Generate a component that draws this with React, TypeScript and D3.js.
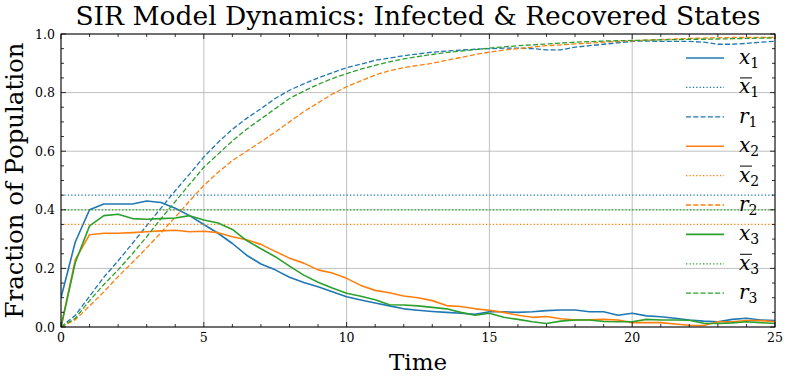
import React, { useEffect, useRef } from 'react'
import * as d3 from 'd3'

// time grid (every 0.5)
const times = d3.range(0, 25.01, 0.5)

// infected fractions x_i
const x1 = [0.10, 0.29, 0.40, 0.42, 0.42, 0.42, 0.43, 0.425, 0.405, 0.38, 0.35, 0.32, 0.285, 0.245, 0.215, 0.195,
  0.17, 0.152, 0.137, 0.12, 0.103, 0.092, 0.082, 0.072, 0.062, 0.057, 0.053, 0.05, 0.047, 0.043, 0.052,
  0.052, 0.05, 0.052, 0.056, 0.058, 0.058, 0.052, 0.052, 0.04, 0.047, 0.038, 0.035, 0.03, 0.024, 0.02,
  0.018, 0.026, 0.03, 0.024, 0.022]
const x2 = [0.0, 0.23, 0.315, 0.32, 0.32, 0.322, 0.325, 0.328, 0.33, 0.325, 0.327, 0.322, 0.308, 0.298, 0.282, 0.258,
  0.235, 0.218, 0.195, 0.184, 0.166, 0.142, 0.125, 0.117, 0.106, 0.1, 0.09, 0.073, 0.07, 0.062, 0.057,
  0.05, 0.04, 0.033, 0.036, 0.028, 0.024, 0.025, 0.026, 0.024, 0.015, 0.015, 0.015, 0.01, 0.006, 0.005,
  0.018, 0.018, 0.022, 0.022, 0.018]
const x3 = [0.0, 0.22, 0.345, 0.38, 0.385, 0.37, 0.368, 0.37, 0.372, 0.38, 0.365, 0.355, 0.333, 0.295, 0.267, 0.24,
  0.208, 0.177, 0.153, 0.133, 0.115, 0.105, 0.093, 0.076, 0.075, 0.072, 0.067, 0.062, 0.05, 0.04, 0.047,
  0.033, 0.026, 0.018, 0.012, 0.02, 0.024, 0.024, 0.019, 0.018, 0.018, 0.026, 0.024, 0.024, 0.023, 0.013,
  0.012, 0.014, 0.018, 0.015, 0.012]

// recovered fractions r_i
const r1 = [0, 0.04, 0.105, 0.17, 0.226, 0.285, 0.346, 0.406, 0.465, 0.522, 0.58, 0.63, 0.675, 0.712, 0.745, 0.78,
  0.808, 0.83, 0.85, 0.868, 0.885, 0.897, 0.91, 0.918, 0.926, 0.932, 0.938, 0.942, 0.945, 0.948, 0.95,
  0.952, 0.952, 0.95, 0.946, 0.946, 0.955, 0.96, 0.965, 0.97, 0.975, 0.976, 0.975, 0.975, 0.975, 0.972,
  0.965, 0.965, 0.968, 0.972, 0.975]
const r2 = [0, 0.025, 0.072, 0.12, 0.172, 0.22, 0.27, 0.322, 0.375, 0.43, 0.483, 0.528, 0.568, 0.6, 0.632, 0.665,
  0.7, 0.735, 0.765, 0.795, 0.82, 0.84, 0.86, 0.875, 0.885, 0.893, 0.9, 0.91, 0.92, 0.93, 0.938,
  0.945, 0.95, 0.955, 0.96, 0.963, 0.966, 0.969, 0.972, 0.975, 0.977, 0.979, 0.981, 0.983, 0.985, 0.986,
  0.987, 0.988, 0.988, 0.988, 0.988]
const r3 = [0, 0.03, 0.09, 0.145, 0.195, 0.25, 0.308, 0.37, 0.428, 0.487, 0.545, 0.59, 0.635, 0.675, 0.71, 0.745,
  0.78, 0.805, 0.828, 0.848, 0.865, 0.88, 0.893, 0.905, 0.915, 0.923, 0.93, 0.937, 0.942, 0.947, 0.952,
  0.956, 0.96, 0.963, 0.966, 0.969, 0.972, 0.974, 0.976, 0.977, 0.978, 0.979, 0.98, 0.981, 0.982, 0.982,
  0.983, 0.984, 0.985, 0.986, 0.987]

// equilibrium levels x̄_i
const xbar = [0.45, 0.35, 0.40]

const colors = ['#1f77b4', '#ff7f0e', '#2ca02c']
const xTicks = [0, 5, 10, 15, 20, 25]
const yTicks = [0, 0.2, 0.4, 0.6, 0.8, 1.0]

const App = () => {
  const ref = useRef<SVGSVGElement>(null)

  useEffect(() => {
    document.body.style.margin = '0'
    const svg = d3.select(ref.current)
    svg.selectAll('*').remove()

    const width = 788
    const height = 380
    const margin = { left: 61, right: 13, top: 34, bottom: 53 }
    const serif = 'DejaVu Serif'

    const xScale = d3.scaleLinear().domain([0, 25]).range([margin.left, width - margin.right])
    const yScale = d3.scaleLinear().domain([0, 1]).range([height - margin.bottom, margin.top])
    const [x0, xEnd] = xScale.range()
    const [yBottom, yTop] = yScale.range()

    svg.attr('width', width).attr('height', height).attr('viewBox', `0 0 ${width} ${height}`)
    svg.append('rect').attr('width', width).attr('height', height).attr('fill', '#fff')

    // grid
    const grid = svg.append('g').attr('stroke', '#b0b0b0').attr('stroke-width', 0.8)
    xTicks.forEach(t => grid.append('line').attr('x1', xScale(t)).attr('x2', xScale(t)).attr('y1', yBottom).attr('y2', yTop))
    yTicks.forEach(t => grid.append('line').attr('y1', yScale(t)).attr('y2', yScale(t)).attr('x1', x0).attr('x2', xEnd))

    const clip = svg.append('defs').append('clipPath').attr('id', 'plotclip')
    clip.append('rect').attr('x', x0).attr('y', yTop).attr('width', xEnd - x0).attr('height', yBottom - yTop)
    const plot = svg.append('g').attr('clip-path', 'url(#plotclip)')

    const line = d3.line<number>()
      .x((d, i) => xScale(times[i]))
      .y(d => yScale(d))

    const xs = [x1, x2, x3]
    const rs = [r1, r2, r3]

    // draw order: x1, xbar1, r1, x2, ...
    xs.forEach((xv, i) => {
      plot.append('path').datum(xv).attr('d', line).attr('fill', 'none')
        .attr('stroke', colors[i]).attr('stroke-width', 1.6).attr('stroke-linejoin', 'round')
      plot.append('line').attr('x1', x0).attr('x2', xEnd).attr('y1', yScale(xbar[i])).attr('y2', yScale(xbar[i]))
        .attr('stroke', colors[i]).attr('stroke-width', 1.3).attr('stroke-dasharray', '1.3,2.1')
      plot.append('path').datum(rs[i]).attr('d', line).attr('fill', 'none')
        .attr('stroke', colors[i]).attr('stroke-width', 1.3).attr('stroke-dasharray', '5,2.3')
    })

    // ticks (inward, all sides)
    const ticks = svg.append('g').attr('stroke', '#000').attr('stroke-width', 0.8)
    const xMinor = d3.range(0, 25.01, 1)
    const yMinor = d3.range(0, 1.001, 0.05)
    xMinor.forEach(t => {
      const len = xTicks.includes(t) ? 5 : 3
      ticks.append('line').attr('x1', xScale(t)).attr('x2', xScale(t)).attr('y1', yBottom).attr('y2', yBottom - len)
      ticks.append('line').attr('x1', xScale(t)).attr('x2', xScale(t)).attr('y1', yTop).attr('y2', yTop + len)
    })
    yMinor.forEach(t => {
      const major = yTicks.some(v => Math.abs(v - t) < 1e-6)
      const len = major ? 5 : 3
      ticks.append('line').attr('y1', yScale(t)).attr('y2', yScale(t)).attr('x1', x0).attr('x2', x0 + len)
      ticks.append('line').attr('y1', yScale(t)).attr('y2', yScale(t)).attr('x1', xEnd).attr('x2', xEnd - len)
    })

    svg.append('rect').attr('x', x0).attr('y', yTop).attr('width', xEnd - x0).attr('height', yBottom - yTop)
      .attr('fill', 'none').attr('stroke', '#000').attr('stroke-width', 1)

    // tick labels
    svg.append('g').selectAll('text').data(xTicks).join('text')
      .attr('x', d => xScale(d)).attr('y', yBottom + 15)
      .attr('text-anchor', 'middle').attr('font-family', serif).attr('font-size', 12.5).attr('fill', '#000')
      .text(d => d)
    svg.append('g').selectAll('text').data(yTicks).join('text')
      .attr('x', x0 - 6).attr('y', d => yScale(d) + 4.5)
      .attr('text-anchor', 'end').attr('font-family', serif).attr('font-size', 12.5).attr('fill', '#000')
      .text(d => d.toFixed(1))

    // axis labels & title
    svg.append('text').attr('x', (x0 + xEnd) / 2).attr('y', 370).attr('text-anchor', 'middle')
      .attr('font-family', serif).attr('font-size', 23).text('Time')
    svg.append('text').attr('transform', `translate(23,${(yTop + yBottom) / 2}) rotate(-90)`).attr('text-anchor', 'middle')
      .attr('font-family', serif).attr('font-size', 24.4).text('Fraction of Population')
    svg.append('text').attr('x', (x0 + xEnd) / 2).attr('y', 25).attr('text-anchor', 'middle')
      .attr('font-family', serif).attr('font-size', 26.5).text('SIR Model Dynamics: Infected & Recovered States')

    // legend
    const legend = svg.append('g')
    const entries: { sym: string, bar: boolean, idx: number, dash: string | null, lw: number }[] = []
    colors.forEach((c, i) => {
      entries.push({ sym: 'x', bar: false, idx: i, dash: null, lw: 1.6 })
      entries.push({ sym: 'x', bar: true, idx: i, dash: '1.3,2.1', lw: 1.3 })
      entries.push({ sym: 'r', bar: false, idx: i, dash: '5,2.3', lw: 1.3 })
    })
    entries.forEach((e, k) => {
      const y = 58 + k * 29.4
      const ln = legend.append('line').attr('x1', 686).attr('x2', 724).attr('y1', y).attr('y2', y)
        .attr('stroke', colors[e.idx]).attr('stroke-width', e.lw)
      if (e.dash) ln.attr('stroke-dasharray', e.dash)
      const t = legend.append('text').attr('x', 739).attr('y', y + 6)
        .attr('font-family', serif).attr('font-size', 20).attr('fill', '#000')
      t.append('tspan').attr('font-style', 'italic').text(e.sym)
      t.append('tspan').attr('font-size', 14).attr('dy', 4).text(String(e.idx + 1))
      if (e.bar) {
        legend.append('line').attr('x1', 740).attr('x2', 752).attr('y1', y - 9.5).attr('y2', y - 9.5)
          .attr('stroke', '#000').attr('stroke-width', 1)
      }
    })
  }, [])

  return <svg ref={ref} style={{ display: 'block' }} />
}

export default App
